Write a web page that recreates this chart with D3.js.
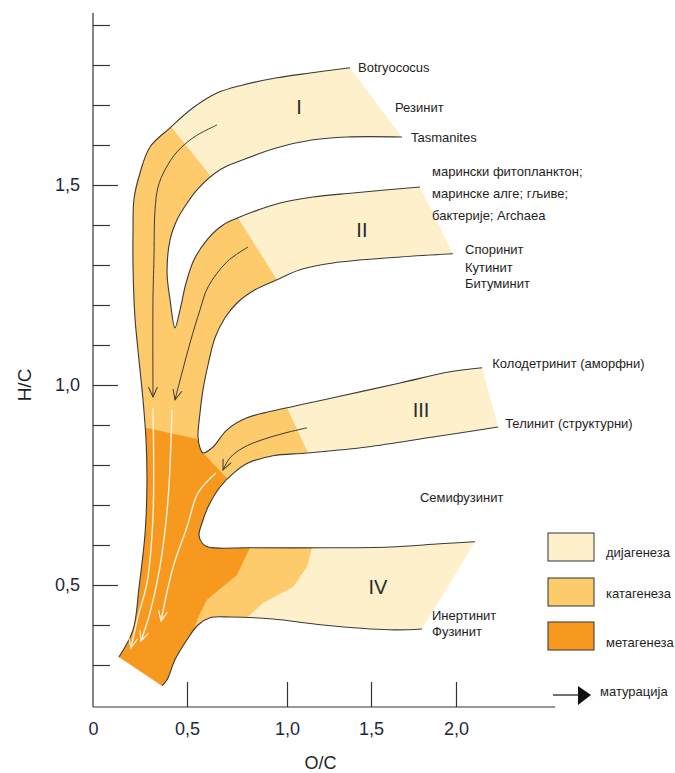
<!DOCTYPE html>
<html>
<head>
<meta charset="utf-8">
<script src="https://cdn.jsdelivr.net/npm/d3@7"></script>
<style>
  body { margin: 0; background: #fff; }
  svg { display: block; }
  text { font-family: "Liberation Sans", Arial, sans-serif; }
</style>
</head>
<body>
<svg id="chart" width="675" height="773"></svg>
<script>
// ---- axis ticks ----
const xTickValues = [0, 0.5, 1.0, 1.5, 2.0];
const xTickLabels = ["0", "0,5", "1,0", "1,5", "2,0"];
const yMajorTicks = [0.5, 1.0, 1.5];
const yMajorLabels = ["0,5", "1,0", "1,5"];
const yMinorTicks = [0.3, 0.4, 0.6, 0.7, 0.8, 0.9, 1.1, 1.2, 1.3, 1.4, 1.6, 1.7, 1.8, 1.9];

// ---- kerogen envelope, as outlined edges in [O/C, H/C] ----
// outer edge: from the bottom tip, up the trunk and along the top of type I
const edgeOuter = [[0.138,0.32],[0.213,0.388],[0.245,0.495],[0.277,0.63],[0.287,0.755],[0.282,0.863],[0.266,0.963],[0.239,1.088],[0.223,1.17],[0.213,1.295],[0.213,1.388],[0.218,1.465],[0.25,1.53],[0.303,1.595],[0.41,1.643],[0.53,1.693],[0.65,1.73],[0.78,1.75],[0.95,1.768],[1.137,1.78],[1.375,1.793]];
// underside of type I, notch, top of type II
const edgeI_II = [[1.682,1.62],[1.357,1.62],[1.155,1.613],[0.95,1.593],[0.78,1.563],[0.665,1.538],[0.55,1.488],[0.484,1.443],[0.447,1.413],[0.41,1.363],[0.394,1.28],[0.41,1.213],[0.436,1.143],[0.463,1.188],[0.495,1.255],[0.535,1.313],[0.6,1.363],[0.68,1.4],[0.755,1.418],[0.83,1.433],[0.965,1.455],[1.155,1.47],[1.393,1.48],[1.788,1.495]];
// underside of type II, trunk, top of type III
const edgeII_III = [[1.982,1.328],[1.671,1.32],[1.274,1.305],[1.077,1.288],[0.95,1.263],[0.84,1.238],[0.75,1.205],[0.69,1.168],[0.64,1.118],[0.605,1.05],[0.58,0.988],[0.565,0.93],[0.555,0.87],[0.565,0.843],[0.58,0.83],[0.63,0.845],[0.7,0.888],[0.8,0.918],[1.0,0.943],[1.274,0.968],[1.671,1.005],[1.965,1.033],[2.153,1.043]];
// underside of type III, semifusinite notch, top of type IV
const edgeIII_IV = [[2.247,0.895],[1.865,0.87],[1.476,0.845],[1.119,0.83],[0.93,0.823],[0.805,0.805],[0.74,0.783],[0.665,0.745],[0.605,0.695],[0.575,0.655],[0.56,0.625],[0.575,0.605],[0.605,0.595],[0.815,0.593],[1.214,0.593],[1.612,0.595],[1.906,0.603],[2.112,0.608]];
// underside of type IV down to the bottom tip
const edgeLower = [[1.8,0.39],[1.612,0.388],[1.214,0.4],[0.93,0.415],[0.715,0.42],[0.615,0.418],[0.555,0.4],[0.5,0.363],[0.436,0.313],[0.394,0.263],[0.367,0.248]];
const envelopeEdges = [edgeOuter, edgeI_II, edgeII_III, edgeIII_IV, edgeLower];

// ---- maturity zones (clipped by the envelope) ----
const catagenesisZone = [[0.037,0.213],[0.037,1.813],[0.314,1.705],[0.625,1.518],[0.705,1.463],[0.755,1.418],[0.95,1.263],[1.018,1.213],[0.965,0.983],[1.0,0.943],[1.125,0.83],[1.167,0.788],[1.185,0.663],[1.149,0.593],[1.119,0.545],[1.036,0.495],[0.88,0.455],[0.8,0.418],[0.765,0.363],[0.765,0.213]];
const metagenesisZone = [[0.037,0.213],[0.037,0.898],[0.282,0.893],[0.55,0.865],[0.58,0.83],[0.725,0.753],[0.84,0.663],[0.815,0.593],[0.75,0.525],[0.6,0.463],[0.555,0.418],[0.515,0.363],[0.489,0.213]];

// ---- maturation paths ----
const maturationDark = [
  [[0.65,1.65],[0.6,1.638],[0.53,1.618],[0.447,1.583],[0.383,1.538],[0.346,1.495],[0.33,1.438],[0.324,1.313],[0.319,1.213],[0.319,0.97]],
  [[0.805,1.345],[0.7,1.308],[0.605,1.245],[0.565,1.188],[0.515,1.105],[0.473,1.03],[0.436,0.963]],
  [[1.119,0.893],[0.99,0.88],[0.875,0.863],[0.78,0.843],[0.715,0.818],[0.68,0.788]]
];
const maturationLight = [
  [[0.319,0.943],[0.319,0.67],[0.287,0.505],[0.239,0.42],[0.202,0.343]],
  [[0.42,0.938],[0.399,0.713],[0.356,0.545],[0.303,0.43],[0.255,0.36]],
  [[0.645,0.78],[0.555,0.73],[0.5,0.645],[0.426,0.545],[0.362,0.41]]
];

// ---- kerogen types and source material labels ----
const typeNames = ["I", "II", "III", "IV"];
const typeAnchors = [[1.071,1.695],[1.446,1.388],[1.794,0.938],[1.541,0.495]];
const sourceNames = ["Botryococus","Резинит","Tasmanites","марински фитопланктон;","маринске алге; гљиве;","бактерије; Archaea","Споринит","Кутинит","Битуминит","Колодетринит (аморфни)","Телинит (структурни)","Семифузинит","Инертинит","Фузинит"];
const sourceAnchors = [[1.423,1.793],[1.641,1.695],[1.735,1.62],[1.859,1.535],[1.859,1.48],[1.859,1.425],[2.053,1.338],[2.053,1.295],[2.053,1.255],[2.212,1.055],[2.288,0.903],[1.788,0.72],[1.859,0.423],[1.859,0.383]];

// ---- legend ----
const stageNames = ["дијагенеза", "катагенеза", "метагенеза"];
const stageColors = ["#FEF0CB", "#FDCB6B", "#F7981F"];
const maturationLabel = "матурација";

const svg = d3.select("#chart");
const x = d3.scaleLinear().domain([0, 0.5, 1, 1.5, 2, 2.58]).range([93, 187, 287, 371, 456, 555]);
const y = d3.scaleLinear().domain([0.195, 1.93]).range([707, 13]);

const curve = d3.line().x(d => x(d[0])).y(d => y(d[1])).curve(d3.curveCatmullRom.alpha(0.5));
const poly = d3.line().x(d => x(d[0])).y(d => y(d[1])).curve(d3.curveLinearClosed);

// envelope fill: smooth edges joined by straight band ends
const envelopePath = envelopeEdges.map((e, i) => {
  const s = curve(e);
  return i === 0 ? s : "L" + s.slice(1);
}).join("") + "Z";

const defs = svg.append("defs");
defs.append("clipPath").attr("id", "env").append("path").attr("d", envelopePath);

function marker(id, color, w) {
  defs.append("marker").attr("id", id)
    .attr("viewBox", "0 0 10 10").attr("refX", 10).attr("refY", 5)
    .attr("markerUnits", "userSpaceOnUse").attr("markerWidth", 12).attr("markerHeight", 10)
    .attr("orient", "auto")
    .append("path").attr("d", "M0,0.5L10,5L0,9.5")
    .attr("fill", "none").attr("stroke", color).attr("stroke-width", w);
}
marker("headDark", "#3a3a3a", 1);
marker("headLight", "#FFF2DA", 1.2);

// zones
svg.append("path").attr("d", envelopePath).attr("fill", stageColors[0]);
const zones = svg.append("g").attr("clip-path", "url(#env)");
zones.append("path").attr("d", poly(catagenesisZone)).attr("fill", stageColors[1]);
zones.append("path").attr("d", poly(metagenesisZone)).attr("fill", stageColors[2]);

// outlines
svg.append("g").selectAll("path").data(envelopeEdges).join("path")
  .attr("d", curve).attr("fill", "none").attr("stroke", "#3a3a3a").attr("stroke-width", 1.1);

// maturation arrows
svg.append("g").selectAll("path").data(maturationDark).join("path")
  .attr("d", curve).attr("fill", "none").attr("stroke", "#3a3a3a").attr("stroke-width", 1)
  .attr("marker-end", "url(#headDark)");
svg.append("g").selectAll("path").data(maturationLight).join("path")
  .attr("d", curve).attr("fill", "none").attr("stroke", "#FFF2DA").attr("stroke-width", 1.4)
  .attr("marker-end", "url(#headLight)");

// axes
const axisColor = "#333";
svg.append("line").attr("x1", x(0)).attr("x2", x(0)).attr("y1", y(1.93)).attr("y2", y(0.195))
  .attr("stroke", axisColor).attr("stroke-width", 1.2);
svg.append("line").attr("x1", x(0)).attr("x2", x(2.58)).attr("y1", y(0.195)).attr("y2", y(0.195))
  .attr("stroke", axisColor).attr("stroke-width", 1.2);

const yMinorAxis = svg.append("g").attr("transform", `translate(${x(0)},0)`)
  .call(d3.axisLeft(y).tickValues(yMinorTicks).tickSize(-17).tickFormat(""));
const yMajorAxis = svg.append("g").attr("transform", `translate(${x(0)},0)`)
  .call(d3.axisLeft(y).tickValues(yMajorTicks).tickSize(-25).tickPadding(13)
    .tickFormat((d, i) => yMajorLabels[i]));
const xAxis = svg.append("g").attr("transform", `translate(0,${y(0.195)})`)
  .call(d3.axisBottom(x).tickValues(xTickValues).tickSize(-25).tickPadding(15)
    .tickFormat((d, i) => xTickLabels[i]));
[yMinorAxis, yMajorAxis, xAxis].forEach(g => {
  g.select(".domain").remove();
  g.selectAll(".tick line").attr("stroke", axisColor).attr("stroke-width", 1.2);
  g.selectAll(".tick text").attr("font-size", 18).attr("fill", "#1f2740")
    .attr("font-family", "'Liberation Sans', Arial, sans-serif");
});
xAxis.selectAll(".tick line").filter(d => d === 0).remove();

svg.append("text").attr("transform", `translate(24,${y(1.0)}) rotate(-90)`)
  .attr("text-anchor", "middle").attr("dy", "0.35em").attr("font-size", 19).attr("fill", "#1f1f1f")
  .text("H/C");
svg.append("text").attr("x", x(1.2)).attr("y", 769)
  .attr("text-anchor", "middle").attr("font-size", 18).attr("fill", "#1f1f1f").text("O/C");

// type numerals
svg.append("g").selectAll("text").data(typeNames).join("text")
  .attr("x", (d, i) => x(typeAnchors[i][0])).attr("y", (d, i) => y(typeAnchors[i][1]))
  .attr("dy", "0.35em").attr("text-anchor", "middle").attr("font-size", 20).attr("fill", "#2a2a2a")
  .text(d => d);

// source labels
svg.append("g").selectAll("text").data(sourceNames).join("text")
  .attr("x", (d, i) => x(sourceAnchors[i][0])).attr("y", (d, i) => y(sourceAnchors[i][1]))
  .attr("dy", "0.35em").attr("font-size", 13).attr("fill", "#1e1e1e")
  .text(d => d);

// legend
const legend = svg.append("g");
const boxTops = [533, 578, 622];
const labelYs = [552, 593, 642];
stageNames.forEach((name, i) => {
  legend.append("rect").attr("x", 548).attr("y", boxTops[i]).attr("width", 46).attr("height", 28)
    .attr("fill", stageColors[i]).attr("stroke", "#333").attr("stroke-width", 1);
  legend.append("text").attr("x", 606).attr("y", labelYs[i]).attr("dy", "0.35em")
    .attr("font-size", 13).attr("fill", "#1e1e1e").text(name);
});
legend.append("line").attr("x1", 553).attr("x2", 579).attr("y1", 695).attr("y2", 695)
  .attr("stroke", "#111").attr("stroke-width", 1.2);
legend.append("path").attr("d", "M578,686L591,695L578,705Z").attr("fill", "#111");
legend.append("text").attr("x", 600).attr("y", 691).attr("dy", "0.35em")
  .attr("font-size", 13).attr("fill", "#1e1e1e").text(maturationLabel);
</script>
</body>
</html>
